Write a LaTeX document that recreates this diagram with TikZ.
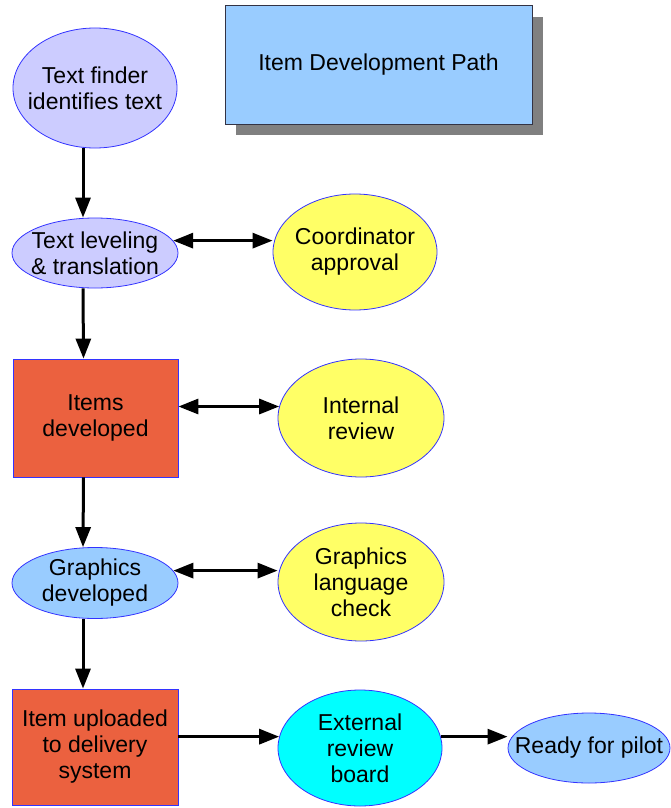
\documentclass[tikz,border=0pt]{standalone}
\usepackage{fontspec}
\setmainfont{Liberation Sans}
\usetikzlibrary{shapes.geometric,arrows.meta,shadows}
\definecolor{lav}{HTML}{CCCCFF}
\definecolor{yel}{HTML}{FFFF66}
\definecolor{org}{HTML}{EB613F}
\definecolor{lblue}{HTML}{99CCFF}
\definecolor{cyn}{HTML}{00FFFF}
\definecolor{bord}{HTML}{3333FF}
\definecolor{titleb}{HTML}{333344}
\begin{document}
\begin{tikzpicture}[x=1pt,y=-1pt,
  every node/.style={font=\fontsize{23}{26}\selectfont, align=center, text=black},
  ell/.style={ellipse, draw=bord, line width=0.8pt, inner sep=-30pt},
  boxnode/.style={rectangle, draw=bord, line width=0.8pt, inner sep=0pt},
  arr/.style={line width=3pt, -{Triangle[length=20pt,width=15pt]}},
  darr/.style={line width=3pt, {Triangle[length=20pt,width=15pt]}-{Triangle[length=20pt,width=15pt]}}]
\useasboundingbox (0,0) rectangle (670,808);
\fill[white] (0,0) rectangle (670,808);

\node[rectangle, fill=lblue, draw=titleb, line width=1pt, minimum width=307pt, minimum height=118pt,
  drop shadow={shadow xshift=11pt, shadow yshift=-11pt, fill=gray, opacity=1}] (ti) at (378.5,65) {Item Development Path};

\node[ell, fill=lav, minimum width=164pt, minimum height=120pt] (tf) at (95,88) {Text finder\\identifies text};
\node[ell, fill=lav, minimum width=166pt, minimum height=70pt] (tl) at (95,253) {Text leveling\\\& translation};
\node[ell, fill=yel, minimum width=164pt, minimum height=116pt] (co) at (355,252) {Coordinator\\approval};
\node[boxnode, fill=org, minimum width=165pt, minimum height=118pt] (it) at (95.5,418) {Items\\developed};
\node[ell, fill=yel, minimum width=166pt, minimum height=118pt] (ir) at (361,418) {Internal\\review};
\node[ell, fill=lblue, minimum width=166pt, minimum height=71pt] (gd) at (95,583) {Graphics\\developed};
\node[ell, fill=yel, minimum width=166pt, minimum height=118pt] (gl) at (361,582) {Graphics\\language\\check};
\node[boxnode, fill=org, minimum width=166pt, minimum height=116pt] (up) at (95,747) {Item uploaded\\to delivery\\system};
\node[ell, fill=cyn, minimum width=164pt, minimum height=116pt] (ex) at (360,748) {External\\review\\board};
\node[ell, fill=lblue, minimum width=162pt, minimum height=70pt] (rp) at (589,748) {Ready for pilot};

\draw[arr] ([xshift=-12pt]tf.south) -- ([xshift=-12pt]tl.north);
\draw[arr] ([xshift=-12pt]tl.south) -- ([xshift=-12pt]it.north);
\draw[arr] ([xshift=-12pt]it.south) -- ([xshift=-12pt]gd.north);
\draw[arr] ([xshift=-12pt]gd.south) -- ([xshift=-12pt]up.north);

\draw[darr] (tl.9) -- (co.west |- tl.9);
\draw[darr] (it.east |- ir.172) -- (ir.172);
\draw[darr] (gd.9) -- (gl.west |- gd.9);
\draw[arr] (up.east |- ex.172) -- (ex.172);
\draw[arr] (ex.8) -- (rp.west |- ex.8);
\end{tikzpicture}
\end{document}
